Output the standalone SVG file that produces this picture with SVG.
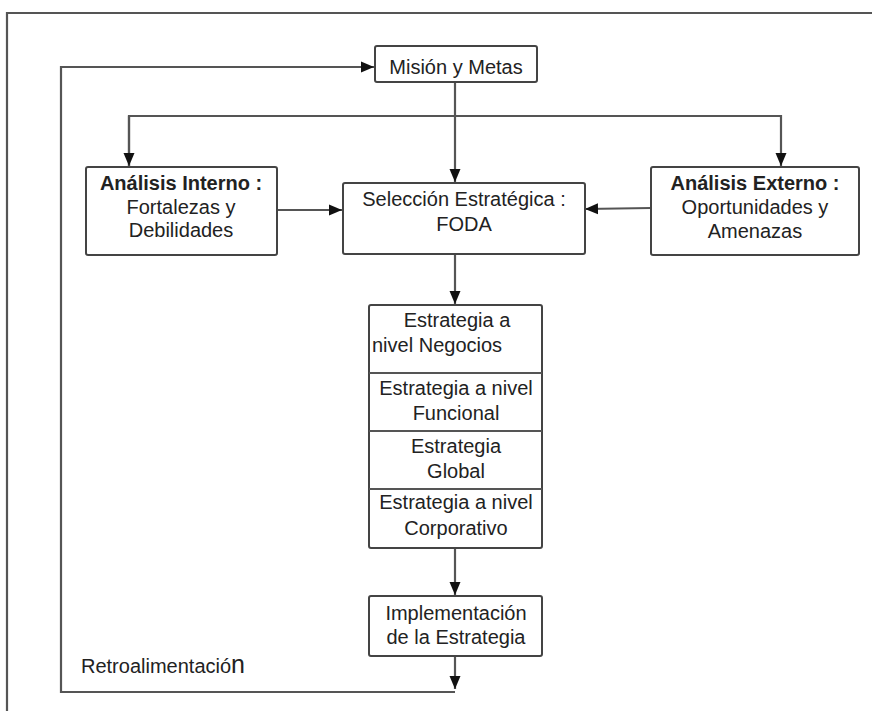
<svg xmlns="http://www.w3.org/2000/svg" width="872" height="711" viewBox="0 0 872 711">
<style>
.box{fill:#fff;stroke:#444;stroke-width:2}
.ln{fill:none;stroke:#555;stroke-width:2.2}
text{font-family:"Liberation Sans",Arial,sans-serif;font-size:20px;fill:#222}
.c{text-anchor:middle}
.b{font-weight:bold}
</style>
<defs>
<marker id="ah" markerWidth="14" markerHeight="14" refX="13" refY="6.5" orient="auto" markerUnits="userSpaceOnUse">
<path d="M0,1 L13,6.5 L0,12 Z" fill="#111"/>
</marker>
</defs>
<rect x="0" y="0" width="872" height="711" fill="#fff"/>
<path d="M7,711 V13 H872" fill="none" stroke="#555" stroke-width="2.2"/>
<g id="connectors">
<path class="ln" d="M455,82 V182" marker-end="url(#ah)"/>
<path class="ln" d="M129,166 V116 H781 V166" marker-end="url(#ah)"/>
<path class="ln" d="M129,116 V166" marker-end="url(#ah)"/>
<path class="ln" d="M277,210 H342" marker-end="url(#ah)"/>
<path class="ln" d="M651,208 L585,209" marker-end="url(#ah)"/>
<path class="ln" d="M455,254 V304" marker-end="url(#ah)"/>
<path class="ln" d="M455,548 V595" marker-end="url(#ah)"/>
<path class="ln" d="M455,656 V689" marker-end="url(#ah)"/>
<path class="ln" d="M455,692 H61 V67 H374" marker-end="url(#ah)"/>
</g>
<g id="mision">
<rect class="box" x="375" y="46" width="162" height="36" rx="2"/>
<text class="c" x="456" y="74">Misión y Metas</text>
</g>
<g id="interno">
<rect class="box" x="86" y="167" width="191" height="88" rx="2"/>
<text class="c b" x="181" y="190">Análisis Interno :</text>
<text class="c" x="181" y="214">Fortalezas y</text>
<text class="c" x="181" y="237">Debilidades</text>
</g>
<g id="seleccion">
<rect class="box" x="343" y="183" width="242" height="71" rx="2"/>
<text class="c" x="464" y="206">Selección Estratégica :</text>
<text class="c" x="464" y="231">FODA</text>
</g>
<g id="externo">
<rect class="box" x="651" y="167" width="208" height="88" rx="2"/>
<text class="c b" x="755" y="190">Análisis Externo :</text>
<text class="c" x="755" y="214">Oportunidades y</text>
<text class="c" x="755" y="238">Amenazas</text>
</g>
<g id="estrategias">
<rect class="box" x="369" y="305" width="173" height="243" rx="2"/>
<path class="ln" d="M369,373 H542 M369,431 H542 M369,489 H542"/>
</g>
<g id="negocios">
<text class="c" x="457" y="327">Estrategia a</text>
<text x="372" y="352">nivel Negocios</text>
</g>
<g id="funcional">
<text class="c" x="456" y="395">Estrategia a nivel</text>
<text class="c" x="456" y="420">Funcional</text>
</g>
<g id="global">
<text class="c" x="456" y="453">Estrategia</text>
<text class="c" x="456" y="478">Global</text>
</g>
<g id="corporativo">
<text class="c" x="456" y="509">Estrategia a nivel</text>
<text class="c" x="456" y="535">Corporativo</text>
</g>
<g id="implementacion">
<rect class="box" x="369" y="596" width="173" height="60" rx="2"/>
<text class="c" x="456" y="620">Implementación</text>
<text class="c" x="456" y="644">de la Estrategia</text>
</g>
<g id="retro">
<text x="81" y="673">Retroalimentació<tspan font-size="25">n</tspan></text>
</g>
</svg>
